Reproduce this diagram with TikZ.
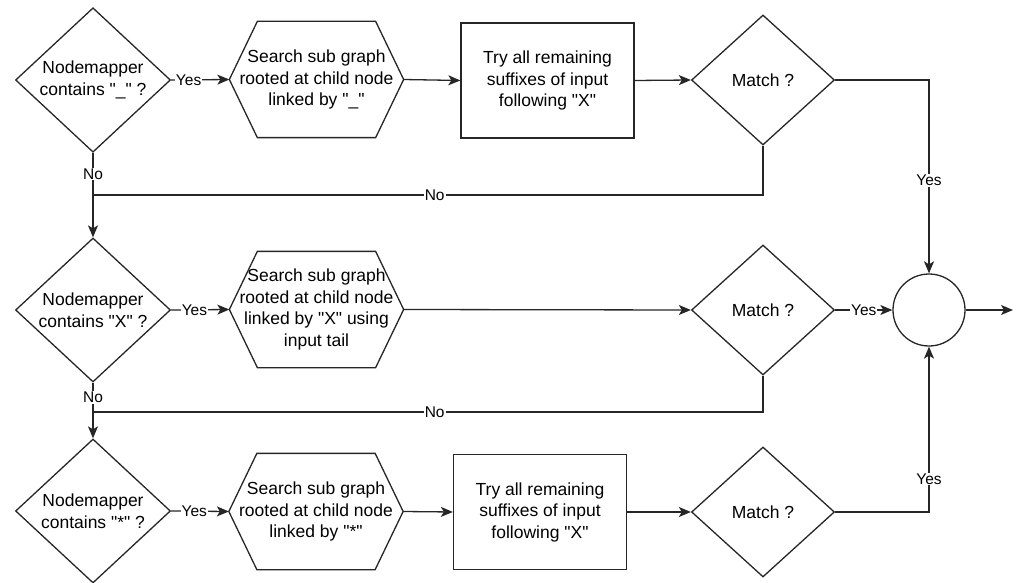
\documentclass[tikz,border=0pt]{standalone}
\usepackage{fontspec}
\setmainfont{Liberation Sans}[Ligatures=TeXOff]
\usetikzlibrary{shapes.geometric,arrows.meta}
\begin{document}
\begin{tikzpicture}[x=1pt,y=-1pt,
  base/.style={line width=1.3pt, draw=black!85, align=center, inner sep=0pt,
    font=\fontsize{17.5}{21.5}\selectfont},
  decision/.style={base, diamond, minimum width=155pt, minimum height=144pt},
  matchbox/.style={base, diamond, minimum width=143pt, minimum height=130pt},
  hexbox/.style={base, draw=none, minimum width=173pt, minimum height=115pt},
  procbox/.style={base, rectangle, minimum width=173pt, minimum height=115pt},
  joinc/.style={base, circle, minimum size=72pt},
  conn/.style={line width=1.3pt, draw=black!85},
  arr/.style={conn, -{Stealth[length=12pt,width=10pt,inset=3pt]}},
  lbl/.style={fill=white, inner sep=1pt, font=\fontsize{15.5}{17}\selectfont}
]
\useasboundingbox (0,0) rectangle (1026,583);

% nodes
\node[decision] (d1) at (93,80) {Nodemapper\\contains "\_" ?};
\node[hexbox] (h1) at (316.5,79.5) {Search sub graph\\rooted at child node\\linked by "\_"};
\node[procbox] (r1) at (547.5,80.5) {Try all remaining\\suffixes of input\\following "X"};
\node[matchbox] (m1) at (763,80) {Match ?};

\node[decision] (d2) at (93,310) {Nodemapper\\contains "X" ?};
\node[hexbox] (h2) at (316.5,309.5) {Search sub graph\\rooted at child node\\linked by "X" using\\input tail};
\node[matchbox] (m2) at (763,310) {Match ?};
\node[joinc] (c) at (929,310) {};

\node[decision] (d3) at (93,511) {Nodemapper\\contains "*" ?};
\node[hexbox] (h3) at (316,511.5) {Search sub graph\\rooted at child node\\linked by "*"};
\node[procbox] (r3) at (540,512) {Try all remaining\\suffixes of input\\following "X"};
\node[matchbox] (m3) at (763,512) {Match ?};

% hexagon outlines
\foreach \h in {h1,h2,h3}{
  \draw[conn, line join=miter] ([xshift=28pt]\h.north west) -- ([xshift=-28pt]\h.north east)
    -- (\h.east) -- ([xshift=-28pt]\h.south east) -- ([xshift=28pt]\h.south west)
    -- (\h.west) -- cycle;
}

\coordinate (j1) at (93,195);
\coordinate (j2) at (93,412);
\coordinate (out) at (1013,310);

% row 1
\draw[arr] (d1.east) -- node[lbl, pos=0.3] {Yes} (h1.west);
\draw[arr] (h1.east) -- (r1.west);
\draw[arr] (r1.east) -- (m1.west);
\draw[arr] (m1.east) -| node[lbl, pos=0.76] {Yes} (c.north);
\draw[conn] (m1.south) |- node[lbl, pos=0.745] {No} (j1);
\draw[conn] (d1.south) -- node[lbl] {No} (j1);
\draw[arr] (j1) -- (d2.north);

% row 2
\draw[arr] (d2.east) -- node[lbl, pos=0.4] {Yes} (h2.west);
\draw[arr] (h2.east) -- (m2.west);
\draw[arr] (m2.east) -- node[lbl] {Yes} (c.west);
\draw[arr] (c.east) -- (out);
\draw[conn] (m2.south) |- node[lbl, pos=0.745] {No} (j2);
\draw[conn] (d2.south) -- node[lbl] {No} (j2);
\draw[arr] (j2) -- (d3.north);

% row 3
\draw[arr] (d3.east) -- node[lbl, pos=0.4] {Yes} (h3.west);
\draw[arr] (h3.east) -- (r3.west);
\draw[arr] (r3.east) -- (m3.west);
\draw[arr] (m3.east) -| node[lbl, pos=0.6] {Yes} (c.south);
\end{tikzpicture}
\end{document}
